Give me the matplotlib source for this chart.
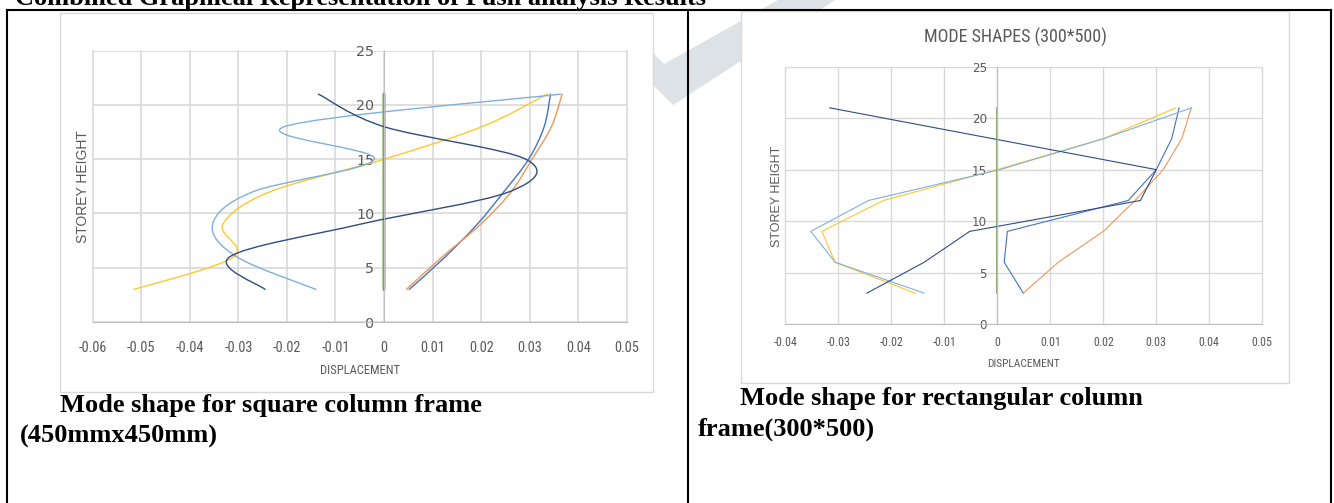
import matplotlib.pyplot as plt
import numpy as np
from matplotlib import font_manager
from matplotlib.path import Path
from matplotlib.patches import PathPatch, Rectangle, Polygon
from matplotlib.lines import Line2D

W, H = 1334, 503

storey = [3, 6, 9, 12, 15, 18, 21]

# square column frame (450x450), smoothed lines
sq_blue = [0.0052, 0.0126, 0.0192, 0.0247, 0.0298, 0.0330, 0.0343]
sq_orange = [0.0046, 0.0120, 0.0199, 0.0262, 0.0305, 0.0345, 0.0367]
sq_yellow = [-0.0515, -0.0310, -0.0332, -0.0235, 0.0000, 0.0202, 0.0336]
sq_lightblue = [-0.0140, -0.0303, -0.0353, -0.0270, -0.0020, -0.0205, 0.0364]
sq_green = [0, 0, 0, 0, 0, 0, 0]
sq_navy = [-0.0245, -0.0318, -0.0050, 0.0258, 0.0292, 0.0000, -0.0135]

# rectangular column frame (300*500), straight lines
re_blue = [0.0049, 0.0013, 0.0019, 0.0247, 0.0300, 0.0329, 0.0343]
re_orange = [0.0049, 0.0115, 0.0200, 0.0260, 0.0313, 0.0348, 0.0366]
re_yellow = [-0.0155, -0.0306, -0.0331, -0.0215, 0.0000, 0.0200, 0.0337]
re_lightblue = [-0.0138, -0.0306, -0.0352, -0.0243, 0.0005, 0.0200, 0.0366]
re_green = [0, 0, 0, 0, 0, 0, 0]
re_navy = [-0.0246, -0.0138, -0.0052, 0.0270, 0.0300, -0.0008, -0.0316]

sq_xticks = [-0.06, -0.05, -0.04, -0.03, -0.02, -0.01, 0, 0.01, 0.02, 0.03, 0.04, 0.05]
sq_xlabels = ['-0.06', '-0.05', '-0.04', '-0.03', '-0.02', '-0.01', '0',
              '0.01', '0.02', '0.03', '0.04', '0.05']
re_xticks = [-0.04, -0.03, -0.02, -0.01, 0, 0.01, 0.02, 0.03, 0.04, 0.05]
re_xlabels = ['-0.04', '-0.03', '-0.02', '-0.01', '0', '0.01', '0.02', '0.03', '0.04', '0.05']
yticks = [0, 5, 10, 15, 20, 25]

BLUE = '#4472c4'
ORANGE = '#f0955a'
YELLOW = '#ffc72c'
LIGHTBLUE = '#7fb0e0'
GREEN = '#70ad47'
NAVY = '#2f4d80'
GRID = '#d9d9d9'
TXT = '#595959'

# pick a narrow font for the chart texts (excel charts look condensed here)
fonts = font_manager.fontManager.ttflist
names = {f.name for f in fonts}
STRETCH = 'normal'
SCALE = 1.0
if 'Liberation Sans Narrow' in names:
    NARROW = ['Liberation Sans Narrow', 'DejaVu Sans']
elif 'Roboto Condensed' in names:
    NARROW = ['Roboto Condensed', 'DejaVu Sans']
elif any(f.name == 'DejaVu Sans' and f.stretch == 'condensed' for f in fonts):
    NARROW = ['DejaVu Sans']
    STRETCH = 'condensed'
    SCALE = 0.95
else:
    NARROW = ['Liberation Sans', 'DejaVu Sans']
    SCALE = 0.86


def px(x, y):
    return (x / W, 1 - y / H)


def rect(x0, y0, x1, y1):
    return [x0 / W, 1 - y1 / H, (x1 - x0) / W, (y1 - y0) / H]


def smooth_line(ax, xs, ys, color, lw):
    # excel style smoothing: bezier segments through every point
    pts = list(zip(xs, ys))
    n = len(pts)
    verts = [pts[0]]
    codes = [Path.MOVETO]
    for i in range(n - 1):
        p0 = pts[max(i - 1, 0)]
        p1 = pts[i]
        p2 = pts[i + 1]
        p3 = pts[min(i + 2, n - 1)]
        c1 = (p1[0] + (p2[0] - p0[0]) / 6, p1[1] + (p2[1] - p0[1]) / 6)
        c2 = (p2[0] - (p3[0] - p1[0]) / 6, p2[1] - (p3[1] - p1[1]) / 6)
        verts += [c1, c2, p2]
        codes += [Path.CURVE4] * 3
    ax.add_patch(PathPatch(Path(verts, codes), fill=False, edgecolor=color, lw=lw,
                           capstyle='round', joinstyle='round'))


def setup(ax, xticks, xlabels, size, xpad, ypad, gridw):
    ax.set_xlim(xticks[0], xticks[-1])
    ax.set_ylim(0, 25)
    ax.set_xticks(xticks)
    ax.set_xticklabels(xlabels, family=NARROW, stretch=STRETCH)
    ax.set_yticks(yticks)
    ax.set_yticklabels([str(v) for v in yticks], family=NARROW, stretch=STRETCH)
    ax.set_facecolor('white')
    ax.grid(True, color=GRID, lw=gridw)
    ax.set_axisbelow(True)
    for line in ax.get_xgridlines() + ax.get_ygridlines():
        line.set_clip_on(False)
    ax.spines['left'].set_position(('data', 0))
    ax.spines['left'].set_color('#bfbfbf')
    ax.spines['bottom'].set_color('#bfbfbf')
    ax.spines['top'].set_visible(False)
    ax.spines['right'].set_visible(False)
    ax.tick_params(axis='x', length=0, labelsize=size * SCALE, labelcolor=TXT, pad=xpad)
    ax.tick_params(axis='y', length=0, labelsize=size * SCALE, labelcolor=TXT, pad=ypad)


fig = plt.figure(figsize=(W / 100, H / 100), dpi=100)

# watermark tick behind everything
wm = [(640, 40), (664, 64), (778, 0), (835, 0), (673, 105), (640, 72)]
fig.add_artist(Polygon([px(*p) for p in wm], closed=True, transform=fig.transFigure,
                       facecolor='#dde2e6', edgecolor='none', zorder=-3))

# white chart frames
for x0, y0, x1, y1 in [(60, 13, 653, 392), (741, 11, 1289, 383)]:
    fig.add_artist(Rectangle(px(x0, y1), (x1 - x0) / W, (y1 - y0) / H,
                             transform=fig.transFigure, facecolor='white',
                             edgecolor=GRID, lw=1, zorder=-2))

# square column chart
ax1 = fig.add_axes(rect(92.7, 50.7, 626.7, 322))
setup(ax1, sq_xticks, sq_xlabels, 10.3, 13.5, 7, 1.2)
smooth_line(ax1, sq_blue, storey, BLUE, 1.0)
smooth_line(ax1, sq_orange, storey, ORANGE, 1.0)
smooth_line(ax1, sq_yellow, storey, YELLOW, 1.0)
smooth_line(ax1, sq_lightblue, storey, LIGHTBLUE, 1.0)
smooth_line(ax1, sq_green, storey, GREEN, 2.2)
smooth_line(ax1, sq_navy, storey, NAVY, 1.0)

fig.text(*px(82.7, 186.7), 'STOREY HEIGHT', rotation=90, ha='center', va='center',
         fontsize=10, color=TXT, family=['Liberation Sans', 'DejaVu Sans'])
fig.text(*px(359.7, 370), 'DISPLACEMENT', ha='center', va='center',
         fontsize=9 * SCALE, color=TXT, family=NARROW, stretch=STRETCH)

# rectangular column chart
ax2 = fig.add_axes(rect(785.3, 66.7, 1262.3, 324))
setup(ax2, re_xticks, re_xlabels, 8.6, 8.5, 7.5, 1.0)
ax2.plot(re_blue, storey, color=BLUE, lw=0.8)
ax2.plot(re_orange, storey, color=ORANGE, lw=0.8)
ax2.plot(re_yellow, storey, color=YELLOW, lw=0.8)
ax2.plot(re_lightblue, storey, color=LIGHTBLUE, lw=0.8)
ax2.plot(re_green, storey, color='#6d9050', lw=1.1)
ax2.plot(re_navy, storey, color=NAVY, lw=0.8)

fig.text(*px(1015, 37), 'MODE SHAPES (300*500)', ha='center', va='center',
         fontsize=13 * SCALE, color=TXT, family=NARROW, stretch=STRETCH)
fig.text(*px(776.7, 196.7), 'STOREY HEIGHT', rotation=90, ha='center', va='center',
         fontsize=9, color=TXT, family=['Liberation Sans', 'DejaVu Sans'])
fig.text(*px(1023, 364), 'DISPLACEMENT', ha='center', va='center',
         fontsize=8.2 * SCALE, color=TXT, family=NARROW, stretch=STRETCH)

# document text and table lines
serif = ['Liberation Serif', 'DejaVu Serif']
fig.text(*px(15, 5), 'Combined Graphical Representation of Push analysis Results',
         ha='left', va='baseline', fontsize=19, fontweight='bold', family=serif)
fig.text(*px(60, 412), 'Mode shape for square column frame', ha='left', va='baseline',
         fontsize=19, fontweight='bold', family=serif)
fig.text(*px(20, 443), '(450mmx450mm)', ha='left', va='baseline',
         fontsize=19, fontweight='bold', family=serif)
fig.text(*px(740, 405), 'Mode shape for rectangular column', ha='left', va='baseline',
         fontsize=19, fontweight='bold', family=serif)
fig.text(*px(698, 436), 'frame(300*500)', ha='left', va='baseline',
         fontsize=19, fontweight='bold', family=serif)

for (xa, ya), (xb, yb) in [((7, 10), (1331, 10)), ((7, 10), (7, 503)),
                           ((688, 10), (688, 503)), ((1331, 10), (1331, 503))]:
    fig.add_artist(Line2D([xa / W, xb / W], [1 - ya / H, 1 - yb / H], color='black',
                          lw=1.5, transform=fig.transFigure, zorder=5))

fig.savefig('out.png', dpi=100)
